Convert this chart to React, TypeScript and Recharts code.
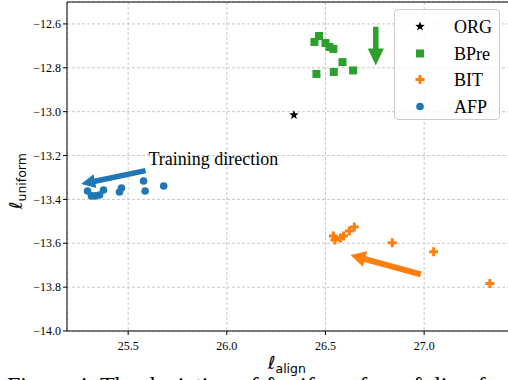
import React from "react";
import { ScatterChart, Scatter, XAxis, YAxis, CartesianGrid, Legend, ReferenceLine, ReferenceDot } from "recharts";

// values
const SERIES_NAMES = ["ORG", "BPre", "BIT", "AFP"];

const ORG_X = [26.34];
const ORG_Y = [-13.015];

const BPRE_X = [26.444, 26.467, 26.5, 26.52, 26.54, 26.586, 26.454, 26.542, 26.64];
const BPRE_Y = [-12.682, -12.655, -12.687, -12.705, -12.714, -12.774, -12.828, -12.819, -12.812];

const BIT_X = [26.54, 26.548, 26.576, 26.591, 26.621, 26.646, 26.838, 27.048, 27.333];
const BIT_Y = [-13.567, -13.585, -13.576, -13.567, -13.544, -13.526, -13.598, -13.639, -13.783];

const AFP_X = [25.294, 25.314, 25.334, 25.355, 25.375, 25.456, 25.466, 25.578, 25.586, 25.68];
const AFP_Y = [-13.362, -13.384, -13.384, -13.38, -13.357, -13.366, -13.348, -13.316, -13.362, -13.339];

const X_TICKS = [25.5, 26.0, 26.5, 27.0];
const Y_TICKS = [-14.0, -13.8, -13.6, -13.4, -13.2, -13.0, -12.8, -12.6];

// arrows: [tailX, tailY, tipX, tipY]
const ARROW_AFP = [25.588, -13.269, 25.262, -13.33];
const ARROW_BPRE = [26.755, -12.613, 26.755, -12.79];
const ARROW_BIT = [26.983, -13.742, 26.627, -13.654];

const NOTE = { x: 25.603, y: -13.243, text: "Training direction" };

const COLORS: Record<string, string> = { ORG: "#000000", BPre: "#2ca02c", BIT: "#ff7f0e", AFP: "#1f77b4" };

const SERIF = "'Liberation Serif', 'Times New Roman', serif";

const zip = (xs: number[], ys: number[]) => xs.map((x, i) => ({ x, y: ys[i] }));

const fmt = (v: number) => v.toFixed(1).replace("-", "\u2212");

const marker = (name: string, cx: number, cy: number) => {
  const c = COLORS[name];
  if (name === "ORG") {
    const pts: string[] = [];
    for (let i = 0; i < 10; i++) {
      const r = i % 2 === 0 ? 5 : 2.1;
      const a = -Math.PI / 2 + (i * Math.PI) / 5;
      pts.push(`${cx + r * Math.cos(a)},${cy + r * Math.sin(a)}`);
    }
    return <polygon points={pts.join(" ")} fill={c} />;
  }
  if (name === "BPre") return <rect x={cx - 4} y={cy - 4} width={8} height={8} fill={c} />;
  if (name === "BIT") {
    const s = 4.5, t = 1.5;
    const d = `M${cx - t},${cy - s}H${cx + t}V${cy - t}H${cx + s}V${cy + t}H${cx + t}V${cy + s}H${cx - t}V${cy + t}H${cx - s}V${cy - t}H${cx - t}Z`;
    return <path d={d} fill={c} />;
  }
  return <circle cx={cx} cy={cy} r={3.8} fill={c} />;
};

const shapeFor = (name: string) => (p: any) => marker(name, p.cx, p.cy);

const arrowShape = (color: string, shaft: number, headW: number, headL: number) => (p: any) => {
  const { x1, y1, x2, y2 } = p;
  const dx = x2 - x1, dy = y2 - y1;
  const len = Math.hypot(dx, dy) || 1;
  const ux = dx / len, uy = dy / len;
  const nx = -uy, ny = ux;
  const bx = x2 - ux * headL, by = y2 - uy * headL;
  const pts = [
    [x1 + nx * shaft / 2, y1 + ny * shaft / 2],
    [bx + nx * shaft / 2, by + ny * shaft / 2],
    [bx + nx * headW / 2, by + ny * headW / 2],
    [x2, y2],
    [bx - nx * headW / 2, by - ny * headW / 2],
    [bx - nx * shaft / 2, by - ny * shaft / 2],
    [x1 - nx * shaft / 2, y1 - ny * shaft / 2],
  ];
  return <polygon points={pts.map((q) => q.join(",")).join(" ")} fill={color} />;
};

const XTick = (p: any) => (
  <text x={p.x} y={p.y} dy={8.5} textAnchor="middle" fontFamily={SERIF} fontSize={12} fill="#000">
    {fmt(p.payload.value)}
  </text>
);

const YTick = (p: any) => (
  <text x={p.x} y={p.y} dy={4.2} textAnchor="end" fontFamily={SERIF} fontSize={12} fill="#000">
    {fmt(p.payload.value)}
  </text>
);

const renderLegend = (props: any) => {
  const items = [...(props.payload ?? [])].sort(
    (a: any, b: any) => SERIES_NAMES.indexOf(a.value) - SERIES_NAMES.indexOf(b.value)
  );
  return (
    <div
      style={{
        position: "relative",
        width: 106,
        height: 111,
        boxSizing: "border-box",
        background: "rgba(255,255,255,0.8)",
        border: "1px solid #cccccc",
        borderRadius: 4,
        fontFamily: SERIF,
        fontSize: 18,
      }}
    >
      {items.map((e: any, i: number) => (
        <div key={e.value} style={{ position: "absolute", left: 0, top: 3 + i * 26.6, height: 26, width: 104 }}>
          <svg width={40} height={26} style={{ position: "absolute", left: 6, top: 0 }}>
            {marker(e.value, 19, 13.5)}
          </svg>
          <span style={{ position: "absolute", left: 59, top: 2, lineHeight: "24px", color: "#000" }}>{e.value}</span>
        </div>
      ))}
    </div>
  );
};

const XLabel = () => (
  <text x={287} y={369} textAnchor="middle" fontFamily="'DejaVu Sans'" fill="#000">
    <tspan fontSize={18} fontStyle="italic">ℓ</tspan>
    <tspan fontSize={12.5} dy={3.5}>align</tspan>
  </text>
);

const YLabel = () => (
  <text x={0} y={0} transform="translate(22 181) rotate(-90)" textAnchor="middle" fontFamily="'DejaVu Sans'" fill="#000">
    <tspan fontSize={18} fontStyle="italic">ℓ</tspan>
    <tspan fontSize={12.5} dy={3.5}>uniform</tspan>
  </text>
);

export default function App() {
  return (
    <div style={{ position: "absolute", left: 0, top: 0, width: 508, height: 380, overflow: "hidden", background: "#fff" }}>
      <ScatterChart width={520} height={380} margin={{ top: 2, right: 11, bottom: 0, left: 0 }}>
        <CartesianGrid stroke="#c8c8c8" strokeDasharray="3 2" />
        <XAxis
          type="number"
          dataKey="x"
          domain={[25.19, 27.43]}
          allowDataOverflow
          ticks={X_TICKS}
          tick={<XTick />}
          tickSize={4}
          tickMargin={6}
          stroke="#000"
          height={49}
          label={{ content: () => <XLabel /> }}
        />
        <YAxis
          type="number"
          dataKey="y"
          domain={[-14.0, -12.5]}
          allowDataOverflow
          ticks={Y_TICKS}
          tick={<YTick />}
          tickSize={4}
          tickMargin={2}
          stroke="#000"
          width={67}
          label={{ content: () => <YLabel /> }}
        />
        <ReferenceLine y={-12.5} stroke="#000" ifOverflow="visible" />
        <Legend
          layout="vertical"
          verticalAlign="middle"
          align="center"
          content={renderLegend}
          wrapperStyle={{ left: 394, top: 9, width: 106, height: 111 }}
        />
        <Scatter name="ORG" data={zip(ORG_X, ORG_Y)} fill={COLORS.ORG} shape={shapeFor("ORG")} isAnimationActive={false} />
        <Scatter name="BPre" data={zip(BPRE_X, BPRE_Y)} fill={COLORS.BPre} shape={shapeFor("BPre")} isAnimationActive={false} />
        <Scatter name="BIT" data={zip(BIT_X, BIT_Y)} fill={COLORS.BIT} shape={shapeFor("BIT")} isAnimationActive={false} />
        <Scatter name="AFP" data={zip(AFP_X, AFP_Y)} fill={COLORS.AFP} shape={shapeFor("AFP")} isAnimationActive={false} />
        <ReferenceLine
          segment={[{ x: ARROW_AFP[0], y: ARROW_AFP[1] }, { x: ARROW_AFP[2], y: ARROW_AFP[3] }]}
          shape={arrowShape(COLORS.AFP, 5.5, 14, 14)}
        />
        <ReferenceLine
          segment={[{ x: ARROW_BPRE[0], y: ARROW_BPRE[1] }, { x: ARROW_BPRE[2], y: ARROW_BPRE[3] }]}
          shape={arrowShape(COLORS.BPre, 5.5, 16, 17)}
        />
        <ReferenceLine
          segment={[{ x: ARROW_BIT[0], y: ARROW_BIT[1] }, { x: ARROW_BIT[2], y: ARROW_BIT[3] }]}
          shape={arrowShape(COLORS.BIT, 6, 16, 15)}
        />
        <ReferenceDot
          x={NOTE.x}
          y={NOTE.y}
          r={0}
          shape={(p: any) => (
            <text x={p.cx} y={p.cy} fontFamily={SERIF} fontSize={18} fill="#000">
              {NOTE.text}
            </text>
          )}
        />
      </ScatterChart>
      <div
        style={{
          position: "absolute",
          left: 7,
          top: 373,
          whiteSpace: "nowrap",
          fontFamily: SERIF,
          fontSize: 24,
          lineHeight: "24px",
          color: "#000",
        }}
      >
        Figure 4: The deviation of ℓuniform from ℓalign for UCF
      </div>
    </div>
  );
}
